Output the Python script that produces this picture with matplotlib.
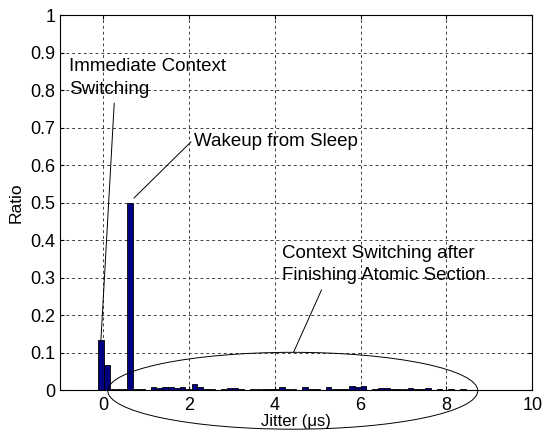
import matplotlib as mpl
mpl.use('agg')
import matplotlib.pyplot as plt
from matplotlib.patches import Ellipse
import numpy as np

plt.rcParams['font.family'] = ['Liberation Sans', 'DejaVu Sans']

# histogram of jitter values (bin width ~0.136 us, first bin centred at -0.05 us)
bin_start = -0.05
bin_width = 0.136
ratio = [0.133, 0.068, 0.004, 0.002, 0.003, 0.500, 0.003, 0.002, 0.000, 0.009,
         0.006, 0.009, 0.009, 0.006, 0.007, 0.004, 0.015, 0.007, 0.003, 0.003,
         0.001, 0.003, 0.006, 0.005, 0.002, 0.001, 0.004, 0.002, 0.002, 0.004,
         0.002, 0.009, 0.003, 0.003, 0.001, 0.007, 0.002, 0.003, 0.001, 0.007,
         0.002, 0.003, 0.002, 0.011, 0.007, 0.012, 0.001, 0.003, 0.006, 0.006,
         0.003, 0.003, 0.003, 0.005, 0.003, 0.002, 0.006, 0.001, 0.003, 0.001,
         0.003, 0.001, 0.003]
bin_centers = bin_start + bin_width * np.arange(len(ratio))

x_ticks = [0, 2, 4, 6, 8, 10]
y_ticks = [0, 0.1, 0.2, 0.3, 0.4, 0.5, 0.6, 0.7, 0.8, 0.9, 1]
y_labels = ['0', '0.1', '0.2', '0.3', '0.4', '0.5', '0.6', '0.7', '0.8', '0.9', '1']

fig = plt.figure(figsize=(5.42, 4.3), dpi=100)
ax = fig.add_axes([0.111, 0.093, 0.871, 0.872])

ax.bar(bin_centers, ratio, width=bin_width * 0.95, color='#000080',
       edgecolor='k', linewidth=0.6, zorder=3)

ax.set_xlim(-1, 10)
ax.set_ylim(0, 1)
ax.set_xticks(x_ticks)
ax.set_yticks(y_ticks)
ax.set_yticklabels(y_labels)
ax.tick_params(direction='in', length=3, labelsize=13, top=True, right=True)
ax.tick_params(axis='x', pad=5)
ax.grid(True, linestyle=(0, (3, 3)), color='0.25', linewidth=0.7)
ax.set_axisbelow(True)
ax.set_xlabel('Jitter (\u03bcs)', fontsize=12, labelpad=0)
ax.set_ylabel('Ratio', fontsize=12.5, labelpad=5)

line_style = dict(arrowstyle='-', color='k', lw=0.7, shrinkA=0, shrinkB=0)

# immediate context switching
ax.text(-0.79, 0.832, 'Immediate Context\nSwitching', fontsize=13.5,
        va='center', ha='left', linespacing=1.4)
ax.annotate('', xy=(-0.05, 0.133), xytext=(0.26, 0.765), arrowprops=line_style)

# wakeup from sleep
ax.text(2.13, 0.662, 'Wakeup from Sleep', fontsize=13.5, va='center', ha='left')
ax.annotate('', xy=(0.72, 0.512), xytext=(2.05, 0.662), arrowprops=line_style)

# context switching after atomic section
ax.text(4.18, 0.334, 'Context Switching after\nFinishing Atomic Section',
        fontsize=13.5, va='center', ha='left', linespacing=1.4)
ax.annotate('', xy=(4.44, 0.101), xytext=(5.09, 0.267), arrowprops=line_style)
ax.add_patch(Ellipse((4.42, -0.002), 8.62, 0.205, fill=False, edgecolor='k',
                     linewidth=0.7, clip_on=False, zorder=4))

fig.savefig('out.png', dpi=100)
